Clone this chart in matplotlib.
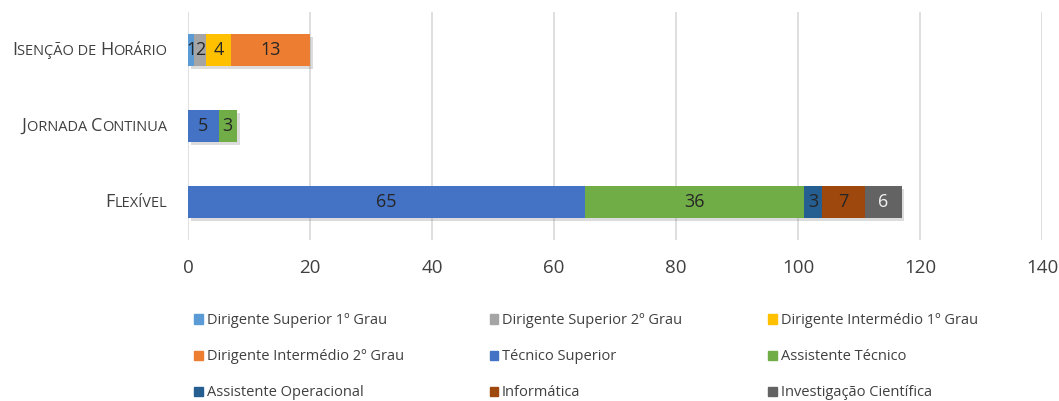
import numpy as np
import matplotlib.pyplot as plt
import matplotlib.patheffects as pe
from matplotlib.patches import Patch
from matplotlib.offsetbox import TextArea, HPacker, AnnotationBbox

plt.rcParams['font.family'] = ['Open Sans', 'DejaVu Sans']

# Dados
categorias = ["Flexível", "Jornada Continua", "Isenção de Horário"]
series = ["Dirigente Superior 1º Grau", "Dirigente Superior 2º Grau", "Dirigente Intermédio 1º Grau",
          "Dirigente Intermédio 2º Grau", "Técnico Superior", "Assistente Técnico",
          "Assistente Operacional", "Informática", "Investigação Científica"]
# valores por série, na ordem das categorias (Flexível, Jornada Continua, Isenção de Horário)
ds1 = [0, 0, 1]
ds2 = [0, 0, 2]
di1 = [0, 0, 4]
di2 = [0, 0, 13]
tec_sup = [65, 5, 0]
ass_tec = [36, 3, 0]
ass_op = [3, 0, 0]
informatica = [7, 0, 0]
invest = [6, 0, 0]
valores = [ds1, ds2, di1, di2, tec_sup, ass_tec, ass_op, informatica, invest]
xticks = [0, 20, 40, 60, 80, 100, 120, 140]

cores = ["#5B9BD5", "#A5A5A5", "#FFC000", "#ED7D31", "#4472C4",
         "#70AD47", "#255E91", "#9E480E", "#636363"]
cor_txt = ["#262626"] * 8 + ["#F2F2F2"]

fig = plt.figure(figsize=(10.59, 4.01), dpi=100)
ax = fig.add_axes([188/1059, 1 - 240/401, (1042 - 188)/1059, 228/401])

y = np.arange(len(categorias))
esq = np.zeros(len(categorias))
sombra = [pe.SimplePatchShadow(offset=(2, -2), alpha=0.18, shadow_rgbFace="#404040"), pe.Normal()]
for nome, vals, cor, ct in zip(series, valores, cores, cor_txt):
    vals = np.array(vals, dtype=float)
    barras = ax.barh(y, vals, left=esq, height=0.42, color=cor, label=nome, zorder=3)
    for b in barras:
        b.set_path_effects(sombra)
    ax.bar_label(barras, labels=[str(int(v)) if v > 0 else "" for v in vals],
                 label_type="center", color=ct, fontsize=13)
    esq += vals

ax.set_xlim(0, 140)
ax.set_ylim(-0.5, 2.5)
ax.set_xticks(xticks)
ax.tick_params(axis="x", length=0, labelsize=13.5, colors="#404040", pad=14)
ax.set_yticks([])
ax.grid(axis="x", color="#D9D9D9", linewidth=1.2, zorder=0)
for s in ax.spines.values():
    s.set_visible(False)


# rótulos das categorias em versaletes
def versalete(txt, grande=13, pequeno=10.5):
    partes = []
    atual, tipo = "", None
    for ch in txt:
        t = "g" if ch.isupper() else "p"
        if t != tipo and atual:
            partes.append((atual, tipo))
            atual = ""
        tipo = t
        atual += ch.upper()
    partes.append((atual, tipo))
    caixas = [TextArea(p, textprops=dict(fontsize=grande if t == "g" else pequeno, color="#404040"))
              for p, t in partes]
    return HPacker(children=caixas, pad=0, sep=0, align="baseline")


for i, cat in enumerate(categorias):
    ab = AnnotationBbox(versalete(cat), (0, i), xycoords=("axes fraction", "data"),
                        xybox=(-15, 0), boxcoords="offset points", box_alignment=(1, 0.5),
                        frameon=False, pad=0)
    ax.add_artist(ab)

alcas = [Patch(color=c) for c in cores]
ordem = [0, 3, 6, 1, 4, 7, 2, 5, 8]
fig.legend([alcas[i] for i in ordem], [series[i] for i in ordem], ncol=3,
           loc="upper left", bbox_to_anchor=(181/1059, 1 - 300/401), frameon=False,
           fontsize=10.5, labelcolor="#404040", handlelength=0.6, handleheight=0.6,
           handletextpad=0.25, columnspacing=5.9, labelspacing=1.45)

fig.savefig("out.png", dpi=100)
